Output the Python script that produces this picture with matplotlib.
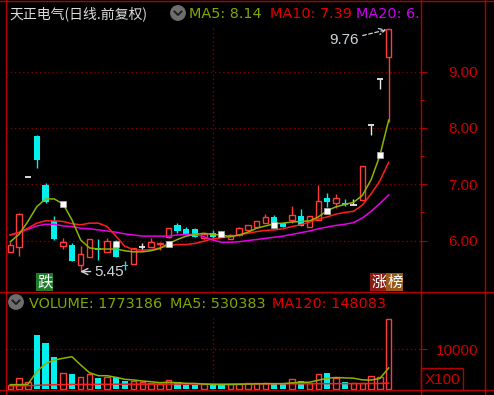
import matplotlib.pyplot as plt
from matplotlib.patches import Circle, Rectangle
from matplotlib.lines import Line2D
from matplotlib.transforms import blended_transform_factory

plt.rcParams["font.family"] = ["Liberation Sans", "Noto Sans CJK SC", "DejaVu Sans"]

# daily bars (forward adjusted)
opens = [5.80, 5.89, 7.13, 7.86, 6.98, 6.34, 5.91, 5.93, 5.57, 5.70, 5.86, 5.80,
         5.95, 5.56, 5.58, 5.88, 5.89, 5.94, 6.07, 6.28, 6.20, 6.20, 6.04, 6.14,
         6.12, 6.02, 6.10, 6.19, 6.24, 6.32, 6.42, 6.31, 6.36, 6.44, 6.25, 6.37,
         6.75, 6.66, 6.66, 6.64, 6.72, 8.06, 8.87, 9.26]
highs = [5.98, 6.49, 7.13, 7.87, 7.03, 6.44, 6.04, 5.96, 5.91, 6.02, 6.02, 6.05,
         6.01, 5.63, 5.86, 5.95, 6.04, 5.98, 6.22, 6.32, 6.25, 6.23, 6.13, 6.18,
         6.14, 6.11, 6.25, 6.27, 6.34, 6.47, 6.45, 6.31, 6.61, 6.56, 6.44, 6.98,
         6.84, 6.83, 6.74, 6.73, 7.33, 8.06, 8.87, 9.76]
lows = [5.80, 5.73, 7.13, 7.29, 6.67, 6.01, 5.85, 5.64, 5.45, 5.70, 5.66, 5.80,
        5.70, 5.48, 5.58, 5.82, 5.89, 5.84, 6.05, 6.13, 6.12, 6.07, 6.03, 6.02,
        6.07, 6.02, 6.08, 6.19, 6.24, 6.32, 6.26, 6.25, 6.31, 6.26, 6.25, 6.37,
        6.60, 6.57, 6.61, 6.64, 6.72, 7.88, 8.70, 8.11]
closes = [5.92, 6.48, 7.13, 7.43, 6.68, 6.03, 5.98, 5.64, 5.76, 6.02, 5.84, 5.99,
          5.70, 5.54, 5.86, 5.88, 5.98, 5.96, 6.22, 6.17, 6.12, 6.07, 6.12, 6.06,
          6.10, 6.10, 6.22, 6.27, 6.34, 6.42, 6.26, 6.25, 6.45, 6.26, 6.44, 6.71,
          6.69, 6.75, 6.63, 6.64, 7.33, 8.06, 8.87, 9.76]

ma5 = [5.98, 6.11, 6.34, 6.60, 6.74, 6.74, 6.65, 6.37, 6.01, 5.87, 5.85, 5.85,
       5.85, 5.82, 5.80, 5.80, 5.82, 5.86, 5.95, 6.02, 6.08, 6.11, 6.13, 6.11,
       6.10, 6.07, 6.10, 6.15, 6.22, 6.26, 6.30, 6.31, 6.33, 6.34, 6.35, 6.42,
       6.53, 6.60, 6.64, 6.68, 6.80, 7.08, 7.51, 8.14]
ma10 = [6.10, 6.15, 6.22, 6.31, 6.35, 6.35, 6.34, 6.30, 6.28, 6.31, 6.31, 6.25,
        6.08, 5.90, 5.84, 5.83, 5.84, 5.87, 5.91, 5.93, 5.93, 5.95, 5.99, 6.03,
        6.05, 6.07, 6.10, 6.13, 6.16, 6.18, 6.19, 6.21, 6.25, 6.28, 6.33, 6.38,
        6.42, 6.47, 6.50, 6.52, 6.63, 6.83, 7.06, 7.39]
ma20 = [6.10, 6.14, 6.20, 6.26, 6.29, 6.29, 6.26, 6.25, 6.22, 6.21, 6.19, 6.17,
        6.15, 6.12, 6.10, 6.08, 6.08, 6.08, 6.08, 6.10, 6.11, 6.11, 6.07, 6.01,
        5.97, 5.97, 5.98, 6.00, 6.02, 6.04, 6.06, 6.08, 6.11, 6.14, 6.17, 6.21,
        6.24, 6.27, 6.29, 6.32, 6.40, 6.52, 6.66, 6.81]

volumes = [90000, 270000, 175000, 1360000, 1160000, 814000, 395000, 370000, 295000,
           370000, 270000, 295000, 295000, 210000, 210000, 169000, 143000, 118000,
           227000, 169000, 100000, 100000, 126000, 126000, 100000, 126000, 126000,
           143000, 143000, 143000, 126000, 126000, 244000, 210000, 143000, 370000,
           410000, 270000, 184000, 159000, 150000, 320000, 290000, 1773186]
vol_ma5 = [110000, 110000, 118000, 436000, 640000, 730000, 773000, 814000, 605000,
           410000, 335000, 335000, 295000, 244000, 227000, 202000, 184000, 159000,
           169000, 159000, 143000, 140000, 125000, 115000, 110000, 115000, 120000,
           125000, 130000, 135000, 135000, 135000, 155000, 170000, 170000, 220000,
           272000, 290000, 280000, 272000, 230000, 225000, 265000, 530383]
vol_ma120 = [80000, 80000, 82000, 92000, 101000, 108000, 112000, 114000, 116000,
             117000, 118000, 119000, 120000, 121000, 122000, 122000, 123000, 123000,
             124000, 124000, 125000, 125000, 126000, 126000, 127000, 127000, 128000,
             128000, 129000, 129000, 130000, 130000, 131000, 131000, 132000, 133000,
             134000, 135000, 135000, 136000, 136000, 138000, 140000, 148083]

marker_idx = [6, 12, 18, 24, 30, 36, 42]
marker_price = [6.65, 5.94, 5.94, 6.11, 6.28, 6.52, 7.52]

price_ticks = [6.0, 7.0, 8.0, 9.0]
price_minor = [6.5, 7.5, 8.5]
vol_ticks = [10000]

RED = "#ff3c3c"
CYAN = "#00f0f0"
WHITE = "#e8e8e8"
AXIS = "#b40000"
GRID = "#800000"
LABEL = "#cc0000"
OLIVE = "#8cb400"
MA10_C = "#ff1e1e"
MA20_C = "#e600e6"

W, H, DPI = 494, 395, 100
n = len(closes)
xs = list(range(n))


def pix(x, y):
    return x / DPI, (H - y) / DPI


fig = plt.figure(figsize=(W / DPI, H / DPI), dpi=DPI, facecolor="black")
ax = fig.add_axes([6 / W, 1 - 292 / H, 414 / W, 292 / H], facecolor="black")
axv = fig.add_axes([6 / W, 1 - 390 / H, 414 / W, 98 / H], facecolor="black")

for a in (ax, axv):
    for s in a.spines.values():
        s.set_visible(False)
    a.set_xlim(-0.49, 46.56)
    a.set_xticks([])
    a.yaxis.tick_right()
    a.tick_params(axis="y", which="major", length=5, width=0.8, color=AXIS, labelright=False)
    a.tick_params(axis="y", which="minor", length=3, width=0.8, color=AXIS)

# price panel
ax.set_ylim(5.087, 10.273)
ax.set_yticks(price_ticks)
ax.set_yticks(price_minor, minor=True)
ax.tick_params(axis="y", which="both", labelright=False)
for p in price_ticks:
    ax.axhline(p, color=GRID, lw=1, ls=(0, (1, 2)), zorder=1)
ax.axvline(23, ymax=0.91, color=GRID, lw=1, ls=(0, (1, 2)), zorder=1)

tr_p = blended_transform_factory(fig.transFigure, ax.transData)
for p in price_ticks:
    ax.text(478 / W, p, "%.2f" % p, transform=tr_p, ha="right", va="center_baseline",
            color=LABEL, fontsize=11, clip_on=False)

for i in xs:
    o, h, l, c = opens[i], highs[i], lows[i], closes[i]
    if c > o:
        ax.vlines(i, c, h, color=RED, lw=1, zorder=2)
        ax.vlines(i, l, o, color=RED, lw=1, zorder=2)
        ax.bar(i, c - o, bottom=o, width=0.6, facecolor="black", edgecolor=RED, lw=1, zorder=2)
    elif c < o:
        ax.vlines(i, l, h, color=CYAN, lw=1, zorder=2)
        ax.bar(i, o - c, bottom=c, width=0.72, color=CYAN, lw=0, zorder=2)
    else:
        ax.vlines(i, l, h, color=WHITE, lw=1, zorder=2)
        ax.hlines(c, i - 0.36, i + 0.36, color=WHITE, lw=1.3, zorder=2)

ax.plot(xs, ma20, color=MA20_C, lw=1.1, zorder=3)
ax.plot(xs, ma10, color=MA10_C, lw=1.1, zorder=3)
ax.plot(xs, ma5, color=OLIVE, lw=1.1, zorder=3)
ax.plot(marker_idx, marker_price, "s", color="white", markersize=3.8,
        markeredgecolor="#b0b0b0", markeredgewidth=0.5, zorder=4)

ax.annotate("9.76", xy=(42.75, 9.745), xytext=(37.9, 9.56), color="#d0d4dc", fontsize=11,
            ha="center", va="center",
            arrowprops=dict(arrowstyle="->", color="#d0d4dc", lw=0.9, ls=(0, (3, 2)),
                            shrinkA=1, shrinkB=0))
ax.annotate("5.45", xy=(7.95, 5.45), xytext=(9.6, 5.45), color="#d0d4dc", fontsize=11,
            ha="left", va="center",
            arrowprops=dict(arrowstyle="->", color="#d0d4dc", lw=1, shrinkA=1, shrinkB=0))

bt = blended_transform_factory(ax.transData, ax.transAxes)
ax.text(3.9, 0.034, "跌", transform=bt, ha="center", va="center", color="white",
        fontsize=11, family=["Noto Sans CJK SC"],
        bbox=dict(boxstyle="square,pad=0.06", fc="#1f7a2a", ec="none"))
ax.text(41.9, 0.034, "涨", transform=bt, ha="center", va="center", color="white",
        fontsize=11, family=["Noto Sans CJK SC"],
        bbox=dict(boxstyle="square,pad=0.06", fc="#8a1a14", ec="none"))
ax.text(43.7, 0.034, "榜", transform=bt, ha="center", va="center", color="white",
        fontsize=11, family=["Noto Sans CJK SC"],
        bbox=dict(boxstyle="square,pad=0.06", fc="#9a5a1c", ec="none"))

# volume panel
vol_h = [v / 100 for v in volumes]
for i in xs:
    if closes[i] >= opens[i]:
        axv.bar(i, vol_h[i], width=0.6, facecolor="black", edgecolor=RED, lw=1, zorder=2)
    else:
        axv.bar(i, vol_h[i], width=0.72, color=CYAN, lw=0, zorder=2)
axv.plot(xs, [v / 100 for v in vol_ma120], color=MA10_C, lw=1.1, zorder=3)
axv.plot(xs, [v / 100 for v in vol_ma5], color=OLIVE, lw=1.1, zorder=3)
axv.set_ylim(-252, 24433)
axv.set_yticks(vol_ticks)
for v in vol_ticks:
    axv.axhline(v, color=GRID, lw=1, ls=(0, (1, 2)), zorder=1)
axv.axvline(23, ymax=0.73, color=GRID, lw=1, ls=(0, (1, 2)), zorder=1)

tr_v = blended_transform_factory(fig.transFigure, axv.transData)
for v in vol_ticks:
    axv.text(478 / W, v, str(v), transform=tr_v, ha="right", va="center_baseline",
             color=LABEL, fontsize=11, clip_on=False)

# frame lines
for y in (0.5, 292, 390):
    fig.add_artist(Line2D([0, W / DPI], [(H - y) / DPI] * 2, transform=fig.dpi_scale_trans,
                          color=AXIS, lw=1))
for x in (5.7, 420.5, 484.5):
    fig.add_artist(Line2D([x / DPI] * 2, [0, H / DPI], transform=fig.dpi_scale_trans,
                          color=AXIS, lw=1))
fig.add_artist(Rectangle(pix(421, 390), 42 / DPI, 22 / DPI, transform=fig.dpi_scale_trans,
                         fill=False, edgecolor=AXIS, lw=1))
fig.text(*pix(442, 384), "X100", transform=fig.dpi_scale_trans, ha="center", va="baseline",
         color=LABEL, fontsize=11)


def badge(cx, cy):
    fig.add_artist(Circle(pix(cx, cy), 7.2 / DPI, transform=fig.dpi_scale_trans,
                          color="#6e6e6e"))
    xs_c = [(cx - 3.5) / DPI, cx / DPI, (cx + 3.5) / DPI]
    ys_c = [(H - cy + 1.5) / DPI, (H - cy - 2) / DPI, (H - cy + 1.5) / DPI]
    fig.add_artist(Line2D(xs_c, ys_c, transform=fig.dpi_scale_trans, color="#1e1e1e", lw=1.4))


def label(x, y, s, color, clip=False):
    t = fig.text(*pix(x, y), s, transform=fig.dpi_scale_trans, ha="left", va="baseline",
                 color=color, fontsize=10.4, family=["DejaVu Sans"])
    if clip:
        t.set_clip_box(ax.bbox)
        t.set_clip_on(True)
    return t


fig.text(*pix(9, 18.5), "天正电气(日线.前复权)", transform=fig.dpi_scale_trans, ha="left",
         va="baseline", color="#dcdcdc", fontsize=10, family=["Noto Sans CJK SC"])
badge(178, 13)
label(189, 18.5, "MA5: %.2f" % ma5[-1], "#80a800")
label(270, 18.5, "MA10: %.2f" % ma10[-1], "#e00000")
label(356, 18.5, "MA20: %.2f" % ma20[-1], "#cc00f0", clip=True)

badge(16, 302)
label(29, 307.7, "VOLUME: %d" % volumes[-1], "#80a800")
label(170, 307.7, "MA5: %d" % vol_ma5[-1], "#80a800")
label(272, 307.7, "MA120: %d" % vol_ma120[-1], "#e00000")

fig.savefig("out.png", dpi=DPI, facecolor="black")
plt.close(fig)
